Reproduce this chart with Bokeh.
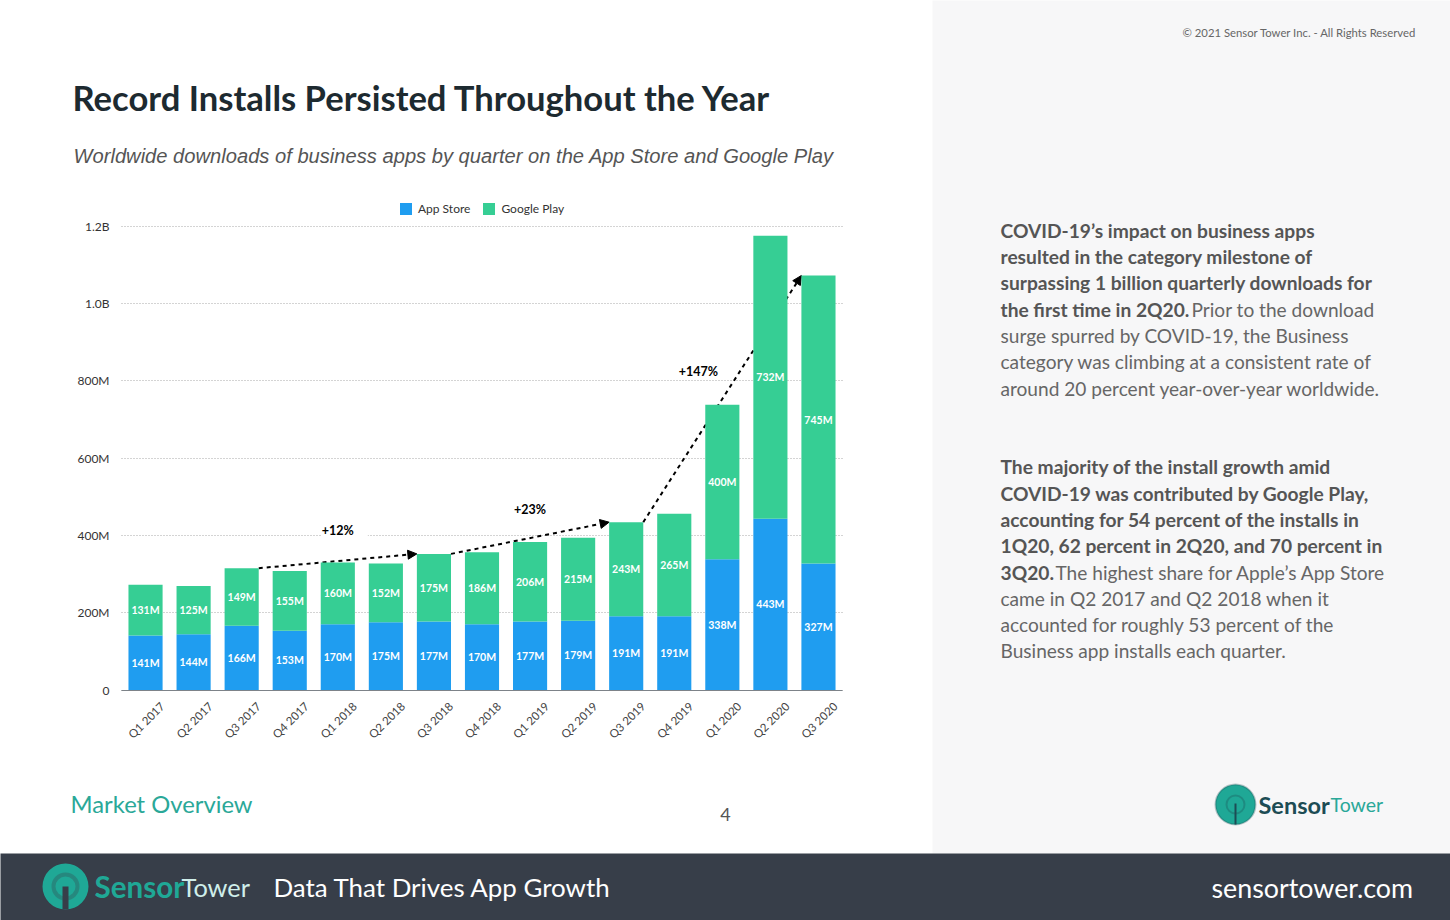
from math import pi
from bokeh.plotting import figure
from bokeh.core.properties import value
from bokeh.models import (ColumnDataSource, Range1d, Label, BoxAnnotation, Arrow, LinearAxis, Grid, FixedTicker,
                          NormalHead, Legend, LegendItem)
from bokeh.embed import file_html
from bokeh.resources import INLINE

quarters = ["Q1 2017","Q2 2017","Q3 2017","Q4 2017","Q1 2018","Q2 2018","Q3 2018","Q4 2018",
            "Q1 2019","Q2 2019","Q3 2019","Q4 2019","Q1 2020","Q2 2020","Q3 2020"]
app_store = [141,144,166,153,170,175,177,170,177,179,191,191,338,443,327]
google_play = [131,125,149,155,160,152,175,186,206,215,243,265,400,732,745]
y_ticks = [0,200e6,400e6,600e6,800e6,1000e6,1200e6]
y_tick_labels = ["0","200M","400M","600M","800M","1.0B","1.2B"]
arrow_from = ["Q3 2017","Q3 2018","Q3 2019"]
arrow_to = ["Q3 2018","Q3 2019","Q3 2020"]
growth_labels = ["+12%","+23%","+147%"]
growth_x = [4.5,8.5,12.0]
growth_y = [410e6,468e6,825e6]

BLUE="#1f9df0"; GREEN="#36ce94"; BAR=0.71
W,H=1450,920
PL,PR,PT,PB=121,842,225.5,689.5   # plot rectangle in page pixels
kx=15/(PR-PL); ky=1.2e9/(PB-PT)

xc=[i+.5 for i in range(len(quarters))]
apps=[v*1e6 for v in app_store]; gps=[v*1e6 for v in google_play]
tops=[a+g for a,g in zip(apps,gps)]
src=ColumnDataSource(dict(x=xc,app=apps,gp=gps,
    app_mid=[a/2 for a in apps],gp_mid=[a+g/2 for a,g in zip(apps,gps)],
    app_txt=[f"{v}M" for v in app_store],gp_txt=[f"{v}M" for v in google_play]))

p=figure(width=W,height=H,x_range=Range1d(-PL*kx,(W-PL)*kx),y_range=Range1d(-(H-PB)*ky,1.2e9+PT*ky),
         output_backend="svg",toolbar_location=None,x_axis_location=None,y_axis_location=None,
         min_border=0,min_border_left=0,min_border_right=0,min_border_top=0,min_border_bottom=0)
p.outline_line_color=None
p.background_fill_color="white"; p.border_fill_color="white"
p.grid.visible=False

def box(l,t,r_,b,color,alpha=1,line=None,lw=1,radius=0):
    p.add_layout(BoxAnnotation(left=l,right=r_,top=t,bottom=b,
        left_units="canvas",right_units="canvas",top_units="canvas",bottom_units="canvas",
        fill_color=color,fill_alpha=alpha,line_color=line,line_width=lw,border_radius=radius,
        level="underlay",editable=False))
def txt(x,y,s,font="Lato",size=20,color="#555555",style="normal",align="left"):
    p.add_layout(Label(x=x-1,y=y-1,x_units="canvas",y_units="canvas",text=s,text_font=font,
        text_font_size=f"{size}px",text_color=color,text_font_style=style,text_align=align,text_baseline="middle"))

box(932,-3,W+3,853,"#f7f7f8")
box(-3,853,W+3,H+3,"#373e49")

grid=Grid(dimension=1,ticker=FixedTicker(ticks=y_ticks),grid_line_color="#a8a8a8",grid_line_dash=[1,2])
if "cross_bounds" in grid.properties():
    grid.cross_bounds=(0,15)
    p.add_layout(grid)
else:
    p.segment(x0=[0]*len(y_ticks),x1=[15]*len(y_ticks),y0=y_ticks,y1=y_ticks,line_color="#a8a8a8",line_dash=[1,2])

for a,b in zip(arrow_from,arrow_to):
    i,j=quarters.index(a),quarters.index(b)
    p.add_layout(Arrow(x_start=xc[i]+BAR/2,y_start=tops[i],x_end=xc[j]-BAR/2,y_end=tops[j],
             line_color="black",line_width=2,line_dash=[4,4],
             end=NormalHead(size=9,fill_color="black",line_color="black"),level="underlay"))

r=p.vbar_stack(["app","gp"],x="x",width=BAR,color=[BLUE,GREEN],source=src,line_color=None)
lab=dict(x="x",text_color="white",text_font=value("Lato"),text_font_style="bold",text_font_size="10.5px",
         text_align="center",text_baseline="middle",source=src)
p.text(y="app_mid",text="app_txt",**lab)
p.text(y="gp_mid",text="gp_txt",**lab)

xaxis=LinearAxis(fixed_location=0,bounds=(0,15),ticker=FixedTicker(ticks=[round(x+.35,2) for x in xc]),
    major_label_overrides={round(x+.35,2):q for x,q in zip(xc,quarters)},
    axis_line_color="#7d8389",major_tick_line_color=None,minor_tick_line_color=None,major_tick_out=0,
    major_label_orientation=pi/4,major_label_text_font="Lato",major_label_text_font_size="11.5px",
    major_label_text_color="#444444",major_label_standoff=14)
yaxis=LinearAxis(fixed_location=0,bounds=(0,1.2e9),ticker=FixedTicker(ticks=y_ticks),
    major_label_overrides={t:l for t,l in zip(y_ticks,y_tick_labels)},
    axis_line_color=None,major_tick_line_color=None,minor_tick_line_color=None,major_tick_out=0,
    major_label_text_font="Lato",major_label_text_font_size="12px",major_label_text_color="#333333",major_label_standoff=12)
p.add_layout(xaxis,"below"); p.add_layout(yaxis,"left")

leg=Legend(items=[LegendItem(label="App Store",renderers=[r[0]]),LegendItem(label="Google Play",renderers=[r[1]])],
           orientation="horizontal",location=(398,H-216),border_line_color=None,background_fill_alpha=0,
           glyph_width=15,glyph_height=15,label_standoff=5,spacing=11,padding=0,margin=0,
           label_text_font="Lato",label_text_font_size="12px",label_text_color="#333333")
p.add_layout(leg)

for t,x,y in zip(growth_labels,growth_x,growth_y):
    kw=dict(background_fill_color="white",padding=(0,14,0,14),x_offset=7,y_offset=-6) if t=="+12%" else {}
    p.add_layout(Label(x=x,y=y,text=t,text_align="center",text_baseline="middle",text_color="black",
                       text_font="Lato",text_font_style="bold",text_font_size="12.5px",**kw))

txt(73,98,"Record Installs Persisted Throughout the Year","Lato",34.6,"#1d2a30","bold")
txt(74,156,"Worldwide downloads of business apps by quarter on the App Store and Google Play","Liberation Sans",20.15,"#555555","italic")
txt(1183,33,"© 2021 Sensor Tower Inc. - All Rights Reserved","Lato",11.3,"#666666")
txt(71,804,"Market Overview","Lato",23.8,"#2aa898")
txt(726,815,"4","Lato",18,"#555555",align="center")

B="#555555"; R="#666666"; F="Lato"
for y,s in [(231,"COVID-19’s impact on business apps"),(257,"resulted in the category milestone of"),
            (283,"surpassing 1 billion quarterly downloads for"),(310,"the first time in 2Q20."),
            (467,"The majority of the install growth amid"),(494,"COVID-19 was contributed by Google Play,"),
            (520,"accounting for 54 percent of the installs in"),(546,"1Q20, 62 percent in 2Q20, and 70 percent in"),
            (573,"3Q20.")]:
    txt(1001,y,s,F,19.2,B,"bold")
for x,y,s in [(1192,310,"Prior to the download"),(1001,336,"surge spurred by COVID-19, the Business"),
              (1001,362,"category was climbing at a consistent rate of"),(1001,389,"around 20 percent year-over-year worldwide."),
              (1056,573,"The highest share for Apple’s App Store"),(1001,599,"came in Q2 2017 and Q2 2018 when it"),
              (1001,625,"accounted for roughly 53 percent of the"),(1001,651,"Business app installs each quarter.")]:
    txt(x,y,s,F,19.1,R)

# right logo
box(1215,784,1255,824,"#1fa896",1,"#1d4c54",2,20)
box(1226,795,1244,813,"#1fa896",1,"#1d4c54",2,9)
box(1234,803,1236,824,"#1d4c54")
txt(1259,805,"Sensor","Lato",23.5,"#1d4c54","bold")
txt(1331,805,"Tower","Lato",19.5,"#2aa898")
# bottom logo
box(42,863,88,909,"#1fa896",1,None,1,23)
box(53,874,77,898,"#1fa896",1,"#373e49",4,12)
box(62,886,68,909,"#373e49")
txt(95,887,"Sensor","Lato",29.6,"#1fa896","bold")
txt(182,887,"Tower","Lato",25.4,"#cfeeea")
txt(274,887,"Data That Drives App Growth","Lato",25.9,"#ffffff")
txt(1212,888,"sensortower.com","Lato",26.8,"#ffffff")

open("out.html","w").write(file_html(p,INLINE))
